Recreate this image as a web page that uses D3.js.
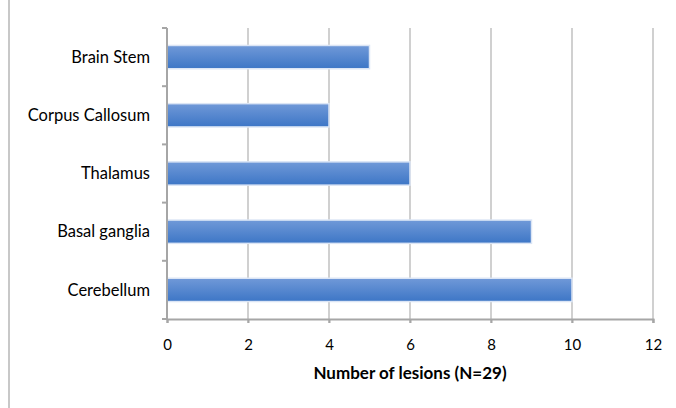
<!DOCTYPE html>
<html><head><meta charset="utf-8">
<script src="https://cdn.jsdelivr.net/npm/d3@7"></script>
<style>html,body{margin:0;padding:0;background:#fff;}svg{display:block;}</style>
</head><body>
<script>
const categories = ["Brain Stem", "Corpus Callosum", "Thalamus", "Basal ganglia", "Cerebellum"];
const lesions = [5, 4, 6, 9, 10];
const xTicks = [0, 2, 4, 6, 8, 10, 12];
const xTitle = "Number of lesions (N=29)";

const W = 676, H = 408;
const m = {left: 167, right: 23, top: 28, bottom: 89};
const svg = d3.select("body").append("svg").attr("width", W).attr("height", H);
const font = "Lato, 'Open Sans', sans-serif";

const defs = svg.append("defs");
const g = defs.append("linearGradient").attr("id", "bg").attr("x1", 0).attr("y1", 0).attr("x2", 0).attr("y2", 1);
g.append("stop").attr("offset", "0%").attr("stop-color", "#7099d8");
g.append("stop").attr("offset", "100%").attr("stop-color", "#3d76c6");

// left border line
svg.append("line").attr("x1", 9).attr("x2", 9).attr("y1", 0).attr("y2", H)
  .attr("stroke", "#c8c8c8").attr("stroke-width", 2);

const x = d3.scaleLinear().domain([0, 12]).range([m.left, W - m.right]);
const y = d3.scaleBand().domain(categories).range([m.top, H - m.bottom]).paddingInner(0.6).paddingOuter(0.3);

// gridlines
svg.append("g").selectAll("line").data(xTicks.filter(d => d > 0)).join("line")
  .attr("x1", d => x(d)).attr("x2", d => x(d))
  .attr("y1", m.top).attr("y2", H - m.bottom + 4)
  .attr("stroke", "#d0d0d0").attr("stroke-width", 2);

// bars
svg.append("g").selectAll("rect").data(categories).join("rect")
  .attr("x", x(0)).attr("y", d => y(d))
  .attr("width", (d, i) => x(lesions[i]) - x(0))
  .attr("height", y.bandwidth())
  .attr("fill", "url(#bg)")
  .attr("stroke", "#dbe5f5").attr("stroke-width", 1.5);

// x axis
const xa = svg.append("g").attr("transform", `translate(0,${H - m.bottom})`)
  .call(d3.axisBottom(x).tickValues(xTicks).tickSize(4).tickPadding(16));
xa.select(".domain").attr("stroke", "#a6a6a6").attr("stroke-width", 2);
xa.selectAll(".tick line").attr("stroke", "#a6a6a6").attr("stroke-width", 2);
xa.selectAll("text").attr("font-family", font).attr("font-size", 15).attr("fill", "#000");

// y axis line + ticks at band boundaries
const yaG = svg.append("g");
yaG.append("line").attr("x1", x(0)).attr("x2", x(0)).attr("y1", m.top).attr("y2", H - m.bottom + 1)
  .attr("stroke", "#a6a6a6").attr("stroke-width", 2);
const bounds = d3.range(categories.length + 1).map(i => m.top + i * (H - m.top - m.bottom) / categories.length);
yaG.selectAll(".yt").data(bounds).join("line").attr("class", "yt")
  .attr("x1", x(0) - 5).attr("x2", x(0)).attr("y1", d => d).attr("y2", d => d)
  .attr("stroke", "#a6a6a6").attr("stroke-width", 2);
yaG.selectAll("text").data(categories).join("text")
  .attr("x", 150).attr("y", d => y(d) + y.bandwidth() / 2)
  .attr("dy", "0.35em").attr("text-anchor", "end")
  .attr("font-family", font).attr("font-size", 16.5).attr("fill", "#000")
  .text(d => d);

// x title
svg.append("text").attr("x", 410).attr("y", 373).attr("dy", "0.35em")
  .attr("text-anchor", "middle").attr("font-family", font).attr("font-weight", "bold")
  .attr("font-size", 17).attr("fill", "#000").text(xTitle);
</script>
</body></html>
